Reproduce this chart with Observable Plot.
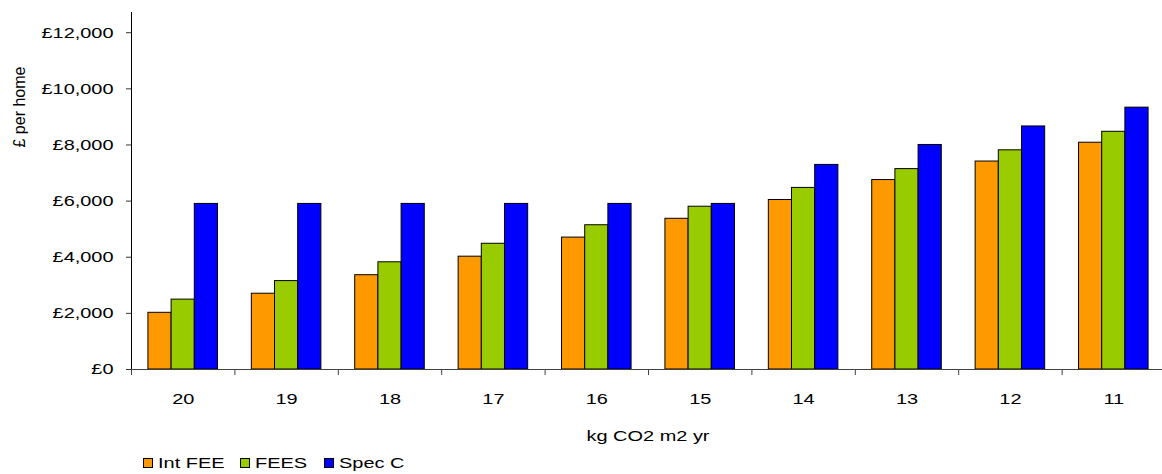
<!DOCTYPE html>
<html>
<head>
<meta charset="utf-8">
<script src="https://cdn.jsdelivr.net/npm/d3@7"></script>
<script src="https://cdn.jsdelivr.net/npm/@observablehq/plot@0.6"></script>
<style>
  body { margin: 0; background: #fff; font-family: "Liberation Sans", Arial, sans-serif; }
  #wrap { position: relative; width: 1162px; height: 474px; overflow: hidden; background: #fff; }
  #wrap svg { position: absolute; left: 0; top: 0; }
  .htext { position: absolute; font-size: 15px; line-height: 18px; white-space: nowrap; color: #000; }
  #ytitle { font-size: 16px; transform: translate(-50%, -50%) rotate(-90deg); }
  #xlabel { transform: translateX(-50%) scaleX(1.33); }
  .sw { position: absolute; width: 8px; height: 8px; border: 1px solid #000; }
  .lt { transform-origin: left center; transform: scaleX(1.33); }
</style>
</head>
<body>
<div id="wrap"></div>
<script>
// ---- data ----
const categories = ["20", "19", "18", "17", "16", "15", "14", "13", "12", "11"];
const seriesNames = ["Int FEE", "FEES", "Spec C"];
const intFEE = [2020, 2700, 3360, 4020, 4700, 5370, 6040, 6750, 7410, 8080];
const fees   = [2490, 3150, 3820, 4480, 5140, 5800, 6470, 7140, 7810, 8470];
const specC  = [5900, 5900, 5900, 5900, 5900, 5900, 7290, 8000, 8660, 9330];
const seriesColors = ["#FF9900", "#99CC00", "#0000FF"];
const yTicks = [0, 2000, 4000, 6000, 8000, 10000, 12000];
const xTitle = "kg CO2 m2 yr";
const yTitle = "£ per home";

const seriesValues = [intFEE, fees, specC];
const table = categories.flatMap((c, i) =>
  seriesNames.map((s, j) => ({cat: c, series: s, value: seriesValues[j][i]}))
);

// ---- layout ----
const W = 1162, H = 412;
const mL = 131, mR = -3, mT = 12, mB = H - 369;
const step = (W - mL - mR) / categories.length;
const SX = 1.33;

const chart = Plot.plot({
  width: W, height: H,
  marginLeft: mL, marginRight: mR, marginTop: mT, marginBottom: mB,
  style: {fontFamily: "'Liberation Sans', Arial, sans-serif", fontSize: "15px", color: "#000", background: "transparent", overflow: "visible"},
  fx: {domain: categories, padding: 0, round: false, label: null},
  x: {domain: seriesNames, paddingInner: 0, paddingOuter: 0.73, round: false, axis: null},
  y: {domain: [0, 12720]},
  color: {domain: seriesNames, range: seriesColors},
  marks: [
    Plot.barY(table, {fx: "cat", x: "series", y: "value", fill: "series", stroke: "#000", strokeWidth: 1}),
    Plot.ruleY([0], {stroke: "#404040", strokeWidth: 1}),
    Plot.frame({anchor: "left", facetAnchor: "left", stroke: "#000"}),
    Plot.axisY(yTicks, {tickSize: 5, tickPadding: 13, stroke: "#333", tickFormat: d => "£" + d3.format(",")(d), label: null}),
    Plot.axisFx({anchor: "bottom", tickSize: 0, tickPadding: 23.5, label: null}),
    Plot.axisFx({anchor: "bottom", tickSize: 6, fill: "none", dx: -step / 2, stroke: "#404040", label: null})
  ]
});

// stretch horizontal axis text to match reference glyph proportions
d3.select(chart).selectAll("text").each(function() {
  const el = d3.select(this);
  const x = +(el.attr("x") || 0);
  let t = el.attr("transform") || "";
  if (x) { t += ` translate(${x},0)`; el.attr("x", null); }
  el.attr("transform", `${t} scale(${SX},1)`);
});

const wrap = document.getElementById("wrap");
wrap.appendChild(chart);

// y title
const yt = document.createElement("div");
yt.className = "htext"; yt.id = "ytitle";
yt.style.left = "19.5px"; yt.style.top = "107px";
yt.textContent = yTitle;
wrap.appendChild(yt);

// x title
const xl = document.createElement("div");
xl.className = "htext"; xl.id = "xlabel";
xl.style.left = "648px"; xl.style.top = "427px";
xl.textContent = xTitle;
wrap.appendChild(xl);

// legend
const legendX = [143, 240, 324];
seriesNames.forEach((s, i) => {
  const sw = document.createElement("div");
  sw.className = "sw";
  sw.style.left = legendX[i] + "px"; sw.style.top = "458px";
  sw.style.background = seriesColors[i];
  wrap.appendChild(sw);
  const t = document.createElement("div");
  t.className = "htext lt";
  t.style.left = (legendX[i] + 15) + "px"; t.style.top = "454px";
  t.textContent = s;
  wrap.appendChild(t);
});
</script>
</body>
</html>
